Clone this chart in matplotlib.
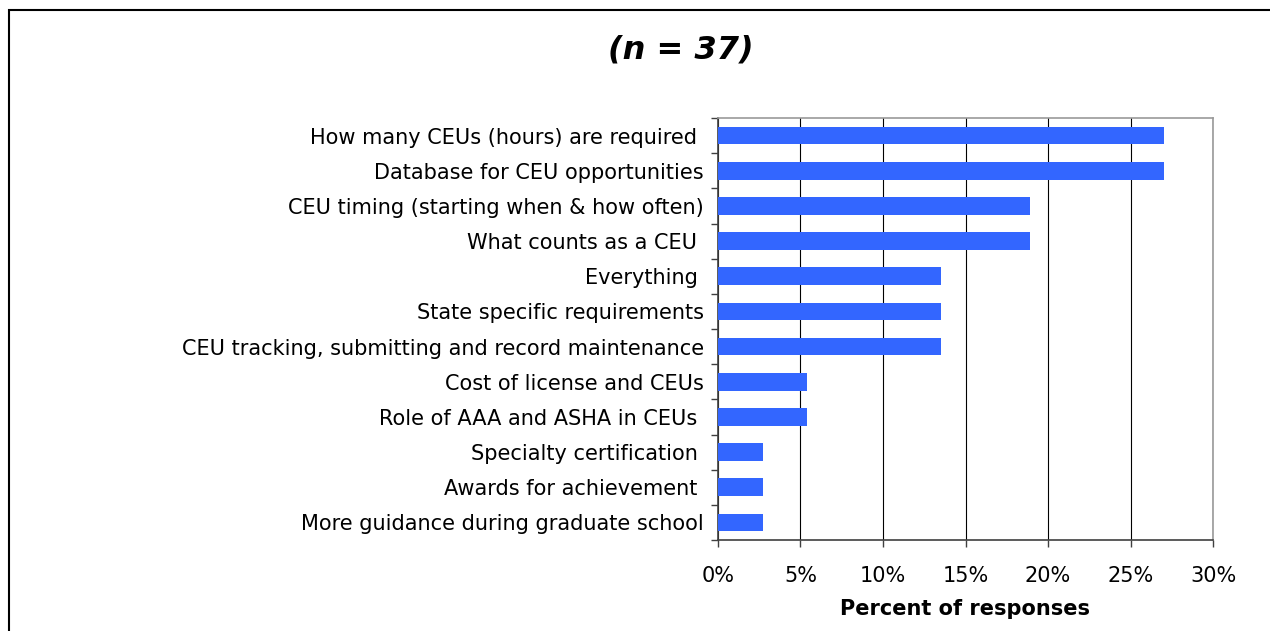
"""Bar chart of requested CEU information topics (n = 37)."""

import matplotlib
matplotlib.use("Agg")
import matplotlib.pyplot as plt
from matplotlib.patches import Rectangle
from matplotlib.ticker import FixedLocator, PercentFormatter

# Data (percent of 37 respondents)
topics = [
    "How many CEUs (hours) are required ",
    "Database for CEU opportunities",
    "CEU timing (starting when & how often)",
    "What counts as a CEU ",
    "Everything ",
    "State specific requirements",
    "CEU tracking, submitting and record maintenance",
    "Cost of license and CEUs",
    "Role of AAA and ASHA in CEUs ",
    "Specialty certification ",
    "Awards for achievement ",
    "More guidance during graduate school",
]
percents = [27.0, 27.0, 18.9, 18.9, 13.5, 13.5, 13.5, 5.4, 5.4, 2.7, 2.7, 2.7]
x_ticks = [0, 5, 10, 15, 20, 25, 30]

W, H = 1270, 631
fig = plt.figure(figsize=(W / 100, H / 100), dpi=100)
fig.patch.set_facecolor("white")

# outer chart border (runs off the right and bottom edges)
fig.patches.append(Rectangle((9 / W, -0.1), 1.2, 1.1 - 10 / H, transform=fig.transFigure,
                             fill=False, edgecolor="black", linewidth=1.5))

left, right, top, bottom = 718, 1213, 118, 540
ax = fig.add_axes([left / W, 1 - bottom / H, (right - left) / W, (bottom - top) / H])

ypos = list(range(len(topics)))
ax.barh(ypos, percents, height=0.5, color="#3366FF", zorder=3)
ax.set_ylim(len(topics) - 0.5, -0.5)
ax.set_xlim(0, 30)

ax.set_xticks(x_ticks)
ax.xaxis.set_major_formatter(PercentFormatter(decimals=0))
ax.grid(axis="x", color="black", linewidth=0.8, zorder=1)

# category labels without ticks, tick marks on category boundaries
ax.set_yticks(ypos)
ax.set_yticklabels(topics, fontsize=15)
ax.tick_params(axis="y", which="major", length=0, pad=10)
ax.yaxis.set_minor_locator(FixedLocator([i - 0.5 for i in range(len(topics) + 1)]))
ax.tick_params(axis="y", which="minor", length=5, color="#404040", width=1)
ax.tick_params(axis="x", length=5, color="#404040", width=1, labelsize=15, pad=14)

for side in ("left", "bottom"):
    ax.spines[side].set_color("#404040")
    ax.spines[side].set_linewidth(1.2)
for side in ("top", "right"):
    ax.spines[side].set_color("#999999")
    ax.spines[side].set_linewidth(1.2)

ax.set_xlabel("Percent of responses", fontsize=15, fontweight="bold", labelpad=9)

fig.text(681 / W, 1 - 50 / H, "(n = 37)", fontsize=23, fontweight="bold",
         fontstyle="italic", ha="center", va="center")

fig.savefig("out.png", dpi=100)
